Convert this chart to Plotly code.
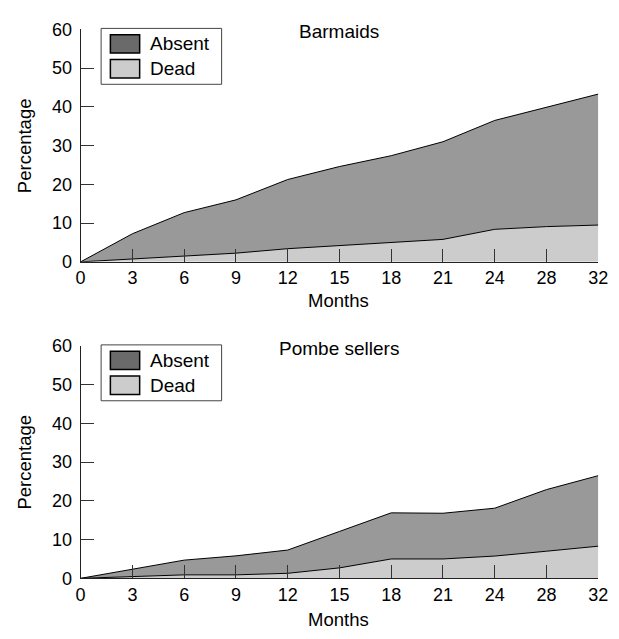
import plotly.graph_objects as go

W, H = 619, 639

months = ["0", "3", "6", "9", "12", "15", "18", "21", "24", "28", "32"]
y_ticks = [0, 10, 20, 30, 40, 50, 60]

# Barmaids (percent)
barmaids_dead = [0, 0.8, 1.5, 2.25, 3.4, 4.2, 5.1, 5.8, 8.4, 9.1, 9.5]
barmaids_absent = [0, 6.45, 11.2, 13.75, 17.85, 20.4, 22.3, 25.2, 28.1, 30.9, 33.8]

# Pombe sellers (percent)
pombe_dead = [0, 0.4, 0.9, 0.9, 1.3, 2.7, 5.0, 5.0, 5.75, 7.0, 8.3]
pombe_absent = [0, 1.9, 3.8, 4.9, 6.0, 9.4, 11.9, 11.8, 12.35, 15.9, 18.2]

titles = ["Barmaids", "Pombe sellers"]
legend_labels = ["Absent", "Dead"]

FONT = "Liberation Sans, Arial, sans-serif"
DEAD_FILL = "#cccccc"
ABSENT_FILL = "#999999"
ABSENT_SWATCH = "#6a6a6a"


def px(x):
    return x / W


def py(y):
    return 1 - y / H


X0, X1 = 77.5, 608
panels = [
    dict(top=20, bottom=260, dead=barmaids_dead, absent=barmaids_absent, title=titles[0],
         months_y=300, title_y=22),
    dict(top=346.7, bottom=586.7, dead=pombe_dead, absent=pombe_absent, title=titles[1],
         months_y=629, title_y=349),
]

fig = go.Figure()
shapes = []
annotations = []

for i, p in enumerate(panels):
    suffix = "" if i == 0 else str(i + 1)
    xa = "x" + suffix
    ya = "y" + suffix
    sg = "s" + str(i)
    fig.add_trace(go.Scatter(
        x=months, y=p["dead"], xaxis=xa, yaxis=ya, stackgroup=sg,
        mode="lines", line=dict(color="black", width=1), fillcolor=DEAD_FILL,
        name="Dead", showlegend=False, hoverinfo="skip"))
    fig.add_trace(go.Scatter(
        x=months, y=p["absent"], xaxis=xa, yaxis=ya, stackgroup=sg,
        mode="lines", line=dict(color="black", width=1), fillcolor=ABSENT_FILL,
        name="Absent", showlegend=False, hoverinfo="skip"))

    axis_common = dict(
        showgrid=False, zeroline=False, showline=True, linecolor="#222222", linewidth=1,
        ticks="inside", ticklen=13, tickwidth=1, tickcolor="#333333",
        tickfont=dict(family=FONT, size=18, color="black"),
    )
    fig.update_layout(**{
        ("xaxis" + suffix): dict(
            axis_common, type="category", range=[0, len(months) - 1],
            domain=[px(X0), px(X1)], anchor=ya, ticklabelstandoff=0),
        ("yaxis" + suffix): dict(
            axis_common, range=[0, 60], tickvals=y_ticks,
            domain=[py(p["bottom"]), py(p["top"])], anchor=xa, ticklabelstandoff=4),
    })

    annotations.append(dict(text=p["title"], x=px(342), y=py(p["title_y"]), xref="paper", yref="paper",
                            showarrow=False, font=dict(family=FONT, size=19, color="black"),
                            xanchor="center", yanchor="middle"))
    annotations.append(dict(text="Months", x=px(342), y=py(p["months_y"]), xref="paper", yref="paper",
                            showarrow=False, font=dict(family=FONT, size=18.5, color="black"),
                            xanchor="center", yanchor="middle"))
    annotations.append(dict(text="Percentage", x=px(20), y=py((p["top"] + p["bottom"]) / 2),
                            xref="paper", yref="paper", textangle=-90,
                            showarrow=False, font=dict(family=FONT, size=18.5, color="black"),
                            xanchor="center", yanchor="middle"))

    # legend (box, swatches, labels)
    off = p["top"] - 20
    shapes.append(dict(type="rect", xref="paper", yref="paper",
                       x0=px(98.5), x1=px(222), y0=py(19 + off), y1=py(76.7 + off),
                       line=dict(color="#444444", width=1), fillcolor="white", layer="above"))
    for j, (lab, col, cy) in enumerate([(legend_labels[0], ABSENT_SWATCH, 35),
                                         (legend_labels[1], DEAD_FILL, 60.7)]):
        shapes.append(dict(type="rect", xref="paper", yref="paper",
                           x0=px(108), x1=px(138), y0=py(cy - 9.5 + off), y1=py(cy + 9.5 + off),
                           line=dict(color="black", width=1.5), fillcolor=col, layer="above"))
        annotations.append(dict(text=lab, x=px(147), y=py(cy + off), xref="paper", yref="paper",
                                showarrow=False, font=dict(family=FONT, size=19, color="black"),
                                xanchor="left", yanchor="middle"))

fig.update_layout(
    width=W, height=H, margin=dict(l=0, r=0, t=0, b=0),
    paper_bgcolor="white", plot_bgcolor="white",
    showlegend=False, shapes=shapes, annotations=annotations,
    font=dict(family=FONT, color="black"),
)

fig.write_html(
    "out.html",
    config={"displayModeBar": False},
    post_script="document.body.style.margin='0';document.body.style.overflow='hidden';",
)
